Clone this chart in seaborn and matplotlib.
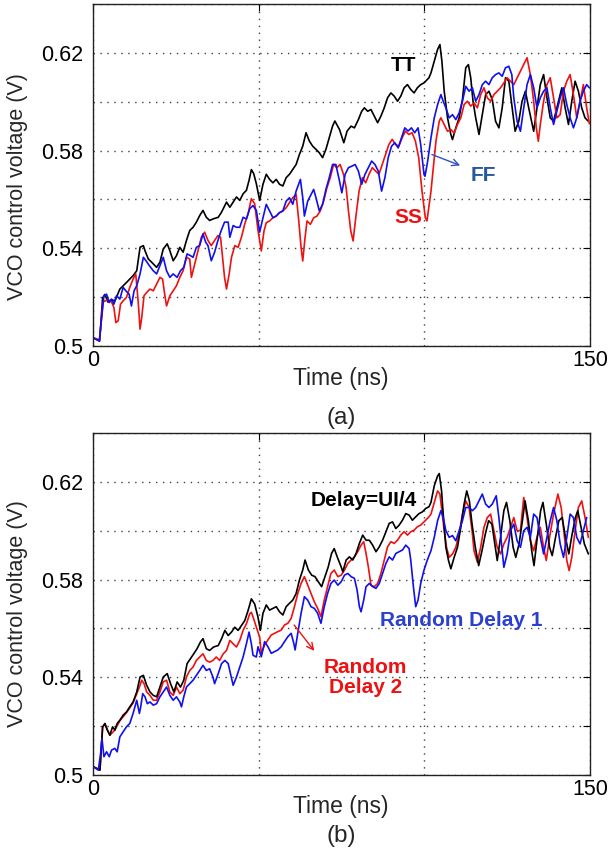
import numpy as np
import pandas as pd
import matplotlib
matplotlib.use("Agg")
import matplotlib.pyplot as plt
import seaborn as sns

# ---------------- data (time in ns, voltage in V) ----------------
# (a) process corners
TT = [(0, 0.5034), (2, 0.502), (2.9, 0.5197), (3.6, 0.5211), (4.5, 0.518), (5.6, 0.519), (6.6, 0.5184),
      (8.1, 0.5233), (10.1, 0.526), (12.1, 0.5288), (13.2, 0.5308), (14.2, 0.5404), (15.2, 0.5411),
      (15.7, 0.539), (16.7, 0.5356), (17.7, 0.5343), (19.2, 0.5322), (20.2, 0.5343), (21.2, 0.5397),
      (22.4, 0.5418), (23.2, 0.539), (24.2, 0.5349), (25.2, 0.537), (26.2, 0.5404), (27.2, 0.5384),
      (28.2, 0.5432), (29.2, 0.5473), (30.2, 0.5486), (31.2, 0.5507), (32.2, 0.5534), (33.2, 0.5555),
      (34.2, 0.5527), (35.2, 0.5514), (36.2, 0.552), (37.8, 0.5527), (38.8, 0.5548), (40.3, 0.5589),
      (41.3, 0.5568), (42.3, 0.5589), (43.3, 0.561), (44.3, 0.5596), (45.3, 0.5623), (46.3, 0.5637),
      (47.1, 0.5678), (47.8, 0.5722), (48.5, 0.5706), (49.3, 0.5664), (50.3, 0.5596), (51.3, 0.5662),
      (52.3, 0.5703), (53.3, 0.5682), (54.3, 0.5668), (55.3, 0.5682), (56.3, 0.5662), (57.3, 0.5655),
      (58.3, 0.5689), (59.3, 0.5703), (60.3, 0.5723), (61.3, 0.5743), (62.3, 0.5784), (63.3, 0.5818),
      (64.3, 0.5873), (65.3, 0.5839), (66.3, 0.5818), (67.3, 0.5805), (68.3, 0.5791), (69.3, 0.5771),
      (70.3, 0.5805), (71.3, 0.5852), (72.3, 0.59), (73.0, 0.5921), (74.4, 0.5886), (75.7, 0.5832),
      (76.7, 0.588), (77.9, 0.59), (78.9, 0.5893), (80.1, 0.5927), (81.1, 0.5961), (81.9, 0.5975),
      (82.9, 0.5961), (83.9, 0.5968), (84.9, 0.5941), (85.9, 0.5914), (86.9, 0.5941), (87.9, 0.5975),
      (88.9, 0.6016), (89.9, 0.6036), (90.9, 0.6023), (91.9, 0.6002), (92.9, 0.6023), (93.9, 0.6057),
      (94.9, 0.607), (95.9, 0.605), (96.9, 0.6036), (97.9, 0.6057), (98.9, 0.607), (99.9, 0.6077),
      (101.4, 0.6098), (102, 0.6118), (103, 0.6166), (104, 0.6214), (104.7, 0.6234), (105.3, 0.6166),
      (106, 0.6043), (107, 0.5934), (108, 0.5866), (108.5, 0.5845), (109.5, 0.5893), (110.5, 0.5934),
      (111.5, 0.6009), (112.5, 0.6139), (113.3, 0.6152), (114, 0.6098), (114.7, 0.6002), (115.5, 0.5934),
      (116.5, 0.5866), (117.5, 0.5947), (118.5, 0.6029), (119.5, 0.6043), (120.5, 0.6009), (121.5, 0.592),
      (122.5, 0.5893), (123.5, 0.5975), (124.5, 0.6098), (125.5, 0.6084), (126.5, 0.5975), (127.4, 0.5879),
      (128.5, 0.592), (129.5, 0.6002), (130.5, 0.6043), (131.5, 0.5975), (133, 0.5879), (134, 0.5975),
      (135, 0.607), (136, 0.6111), (137, 0.6016), (138, 0.5934), (139, 0.592), (140.5, 0.6002),
      (141.5, 0.6057), (142.5, 0.5975), (143.5, 0.5907), (144.5, 0.6002), (145.5, 0.6084), (146.5, 0.6043),
      (147.5, 0.5975), (148.5, 0.5934), (149.5, 0.592)]

SS = [(0, 0.5034), (2, 0.5025), (3, 0.518), (4.5, 0.519), (5.6, 0.518), (6.3, 0.5158), (6.9, 0.5096),
      (7.6, 0.5103), (8.3, 0.5171), (9.1, 0.5185), (10.1, 0.5199), (11.1, 0.524), (12.1, 0.5274),
      (12.9, 0.5295), (13.7, 0.5171), (14.2, 0.5069), (14.7, 0.5116), (15.4, 0.5206), (16.2, 0.5219),
      (17.2, 0.5233), (18.2, 0.5226), (19.2, 0.5253), (20.2, 0.5281), (21.0, 0.5274), (21.7, 0.5206),
      (22.2, 0.5164), (23.2, 0.5206), (24.2, 0.5226), (25.2, 0.5247), (26.2, 0.5281), (27.2, 0.5308),
      (28.2, 0.5363), (29.2, 0.5356), (29.7, 0.5281), (30.7, 0.5336), (31.7, 0.539), (32.7, 0.5445),
      (33.7, 0.5466), (34.7, 0.5432), (35.7, 0.5411), (36.7, 0.5432), (37.7, 0.5452), (38.5, 0.5445),
      (39.1, 0.5363), (39.7, 0.5281), (40.3, 0.5233), (41.1, 0.5295), (41.8, 0.5363), (42.8, 0.5411),
      (43.8, 0.5404), (44.8, 0.5445), (45.8, 0.55), (46.8, 0.5541), (47.8, 0.5603), (48.8, 0.5582),
      (49.8, 0.5473), (50.8, 0.5389), (51.6, 0.547), (52.3, 0.5505), (53.3, 0.5512), (54.3, 0.5525),
      (55.3, 0.5532), (56.3, 0.5546), (57.3, 0.5553), (58.3, 0.5566), (59.3, 0.5587), (60.3, 0.5607),
      (61.3, 0.5621), (62.1, 0.5512), (62.8, 0.5403), (63.3, 0.5348), (64.0, 0.5444), (64.6, 0.5512),
      (65.6, 0.5498), (66.6, 0.5525), (67.6, 0.5532), (68.6, 0.5553), (69.6, 0.5593), (70.6, 0.5648),
      (71.6, 0.5689), (72.6, 0.5743), (73.6, 0.573), (74.6, 0.5743), (75.6, 0.5703), (76.4, 0.5648),
      (77.1, 0.5553), (77.8, 0.5471), (78.5, 0.543), (79.3, 0.5525), (80.3, 0.5634), (81.3, 0.5689),
      (82.3, 0.5668), (83.3, 0.5703), (84.3, 0.573), (85.3, 0.5716), (86.3, 0.5703), (87.3, 0.5743),
      (88.3, 0.5784), (89.3, 0.5825), (90.3, 0.5846), (91.3, 0.5825), (92.3, 0.5818), (93.3, 0.5852),
      (94.3, 0.588), (95.3, 0.5866), (96.3, 0.5873), (97.3, 0.5839), (98.3, 0.5771), (99.3, 0.5634),
      (100.3, 0.5525), (100.8, 0.5512), (102, 0.5633), (103.5, 0.5838), (104.5, 0.592), (105, 0.5934),
      (106, 0.5907), (107, 0.5879), (108, 0.5886), (109, 0.5872), (110, 0.5907), (111, 0.5934),
      (112, 0.5988), (113, 0.6002), (114, 0.5982), (115, 0.5995), (116, 0.5975), (117, 0.6029),
      (118, 0.6057), (119, 0.6016), (120, 0.6002), (121, 0.6029), (122, 0.6043), (123, 0.6057),
      (124, 0.6077), (125, 0.6098), (126, 0.6084), (127, 0.607), (128, 0.6098), (129, 0.6125),
      (130, 0.6152), (131, 0.618), (132, 0.6111), (133, 0.6002), (133.8, 0.5893), (134.4, 0.5838),
      (135, 0.5907), (136, 0.6002), (137, 0.607), (138, 0.6098), (139, 0.6016), (140, 0.5934),
      (141, 0.5947), (142, 0.6043), (143, 0.6084), (144, 0.6111), (145, 0.6029), (146, 0.5934),
      (147, 0.6002), (148, 0.607), (149, 0.5975), (149.8, 0.591)]

FF = [(0, 0.5034), (1.9, 0.5021), (2.6, 0.5116), (3.3, 0.5206), (4.1, 0.5212), (4.9, 0.5178), (5.6, 0.5192),
      (6.3, 0.5171), (7.1, 0.5206), (8.1, 0.5192), (9.1, 0.524), (9.9, 0.5226), (10.9, 0.5212),
      (11.6, 0.5164), (12.4, 0.5226), (13.2, 0.5247), (14.2, 0.5295), (15.2, 0.5363), (16.0, 0.5349),
      (17.0, 0.5329), (18.2, 0.5308), (19.2, 0.5295), (20.2, 0.5329), (21.2, 0.5363), (22.2, 0.5308),
      (23.2, 0.5281), (24.2, 0.5295), (25.4, 0.5281), (26.4, 0.5308), (27.4, 0.5322), (28.4, 0.5377),
      (29.4, 0.537), (30.2, 0.5363), (31.2, 0.5404), (32.2, 0.5411), (33.2, 0.5459), (34.0, 0.5425),
      (34.7, 0.5411), (35.7, 0.5349), (36.7, 0.5384), (37.7, 0.5432), (38.7, 0.5473), (39.7, 0.5507),
      (40.8, 0.5507), (41.3, 0.5445), (42.3, 0.5493), (43.3, 0.5486), (44.3, 0.5486), (45.3, 0.5527),
      (46.3, 0.552), (47.3, 0.5562), (48.3, 0.5575), (49.3, 0.5555), (50.3, 0.5466), (51.3, 0.5525),
      (52.3, 0.558), (53.3, 0.5553), (54.3, 0.5525), (55.3, 0.5532), (56.3, 0.5546), (57.3, 0.5553),
      (58.3, 0.5593), (59.3, 0.5607), (60.3, 0.558), (61.3, 0.5634), (62.6, 0.5682), (63.3, 0.5607),
      (63.8, 0.5532), (64.8, 0.5593), (65.8, 0.562), (66.6, 0.5641), (67.3, 0.5607), (68.3, 0.5553),
      (69.3, 0.558), (70.3, 0.5641), (71.3, 0.5689), (72.3, 0.5743), (73.3, 0.5743), (74.4, 0.5675),
      (75.1, 0.5627), (76.1, 0.5703), (77.1, 0.573), (78.1, 0.5736), (79.1, 0.5743), (80.1, 0.5716),
      (81.1, 0.5662), (82.1, 0.5703), (83.1, 0.573), (84.1, 0.5757), (85.1, 0.5743), (86.1, 0.5716),
      (87.1, 0.5634), (88.1, 0.5689), (89.1, 0.5771), (90.1, 0.5818), (91.1, 0.5832), (92.1, 0.5811),
      (93.1, 0.5852), (94.1, 0.5893), (95.1, 0.588), (96.1, 0.5893), (97.1, 0.5873), (98.1, 0.5893),
      (98.9, 0.5825), (99.9, 0.5702), (100.2, 0.5695), (101, 0.5756), (102, 0.5852), (103, 0.5934),
      (104, 0.5988), (105, 0.6029), (105.7, 0.6002), (106.5, 0.5975), (107.5, 0.5934), (108.5, 0.5947),
      (109.5, 0.5927), (110.5, 0.5954), (111.5, 0.6002), (112.5, 0.6063), (113.5, 0.6043), (114.5, 0.6057),
      (115.5, 0.6002), (116.5, 0.6029), (117.5, 0.607), (118.5, 0.6084), (119.5, 0.607), (120.5, 0.6098),
      (121.5, 0.6111), (122.5, 0.6118), (123.5, 0.6104), (124.5, 0.6139), (125.5, 0.6145), (126.4, 0.6111),
      (127, 0.6016), (128, 0.592), (129, 0.5879), (130, 0.5975), (131, 0.607), (132, 0.6111),
      (133, 0.6057), (134, 0.5975), (135, 0.6016), (136, 0.6043), (137, 0.6057), (138, 0.5975),
      (139, 0.5907), (140, 0.5961), (141, 0.6016), (142, 0.6057), (143, 0.5988), (144, 0.5934),
      (145, 0.5893), (146, 0.5934), (147, 0.6002), (148, 0.6043), (149, 0.607), (149.8, 0.6057)]

# (b) delay cases
D_UI4 = [(0.1, 0.5034), (2.1, 0.502), (2.9, 0.5197), (3.6, 0.5211), (4.3, 0.5184), (5.1, 0.5163),
         (5.9, 0.5197), (6.6, 0.5184), (7.3, 0.5211), (8.1, 0.5224), (9.1, 0.5245), (10.1, 0.5258),
         (11.1, 0.5279), (12.1, 0.5299), (13.2, 0.534), (14.2, 0.5401), (15.2, 0.5408), (16.2, 0.5367),
         (17.2, 0.534), (18.2, 0.5326), (19.2, 0.532), (20.2, 0.536), (21.2, 0.5401), (22.4, 0.5415),
         (23.4, 0.5374), (24.4, 0.534), (25.4, 0.5381), (26.4, 0.536), (27.4, 0.5388), (28.4, 0.5456),
         (29.4, 0.5476), (30.4, 0.5496), (31.4, 0.5517), (32.4, 0.5544), (33.2, 0.5558), (34.2, 0.5517),
         (35.2, 0.551), (36.4, 0.5524), (37.8, 0.553), (38.8, 0.5558), (39.8, 0.5592), (40.8, 0.5571),
         (41.8, 0.5585), (42.8, 0.5605), (43.8, 0.5592), (44.8, 0.5612), (45.8, 0.5632), (46.8, 0.5673),
         (47.8, 0.5721), (48.8, 0.57), (49.8, 0.5646), (50.5, 0.5592), (51.3, 0.5662), (52.3, 0.5696),
         (53.3, 0.5675), (54.3, 0.5682), (55.3, 0.5689), (56.3, 0.5668), (57.3, 0.5655), (58.3, 0.5689),
         (59.3, 0.5703), (60.3, 0.5716), (61.3, 0.5743), (62.3, 0.5798), (63.3, 0.5839), (64.0, 0.588),
         (65.0, 0.5839), (66.0, 0.5818), (67.0, 0.5812), (68.0, 0.5791), (69.0, 0.5771), (70.0, 0.5812),
         (71.0, 0.5852), (72.0, 0.5907), (72.8, 0.5927), (73.9, 0.5886), (74.9, 0.5852), (75.4, 0.5832),
         (76.4, 0.588), (77.4, 0.5893), (78.4, 0.588), (79.4, 0.5907), (80.4, 0.5948), (81.4, 0.5982),
         (82.4, 0.5961), (83.4, 0.5961), (84.4, 0.5941), (85.4, 0.5914), (86.4, 0.5934), (87.4, 0.5961),
         (88.4, 0.5996), (89.4, 0.603), (90.4, 0.6036), (91.4, 0.6009), (92.4, 0.6023), (93.4, 0.6043),
         (94.4, 0.607), (95.4, 0.6064), (96.4, 0.6043), (97.4, 0.6057), (98.4, 0.607), (99.4, 0.6077),
         (100.4, 0.6091), (101.4, 0.6098), (102, 0.6116), (103, 0.6184), (104, 0.6224), (104.5, 0.6234),
         (105.2, 0.6163), (105.7, 0.6068), (106.5, 0.5932), (107.3, 0.5878), (108, 0.5844), (109, 0.5891),
         (110, 0.5932), (111, 0.6014), (112, 0.6109), (112.8, 0.6163), (113.6, 0.6122), (114.4, 0.6027),
         (115.4, 0.5932), (116.4, 0.5857), (117.4, 0.5918), (118.4, 0.5986), (119.4, 0.6041), (120.4, 0.6027),
         (121.4, 0.5932), (122, 0.5878), (123, 0.5973), (124, 0.6082), (124.8, 0.6116), (125.8, 0.6041),
         (126.8, 0.5932), (127.6, 0.5891), (128.6, 0.5946), (129.6, 0.6041), (130.4, 0.6122), (131.4, 0.6041),
         (132.4, 0.5918), (133.1, 0.5857), (134.1, 0.5973), (135.1, 0.6082), (135.8, 0.6116), (136.8, 0.6027),
         (137.8, 0.5932), (138.6, 0.5898), (139.6, 0.5973), (140.6, 0.6041), (141.6, 0.6054), (142.6, 0.5973),
         (143.6, 0.5905), (144.6, 0.5986), (145.6, 0.6054), (146.3, 0.6082), (147.3, 0.6014), (148.3, 0.5946),
         (149.5, 0.5905)]

RD2 = [(0.1, 0.5034), (2.1, 0.502), (2.9, 0.5195), (3.6, 0.5208), (5.1, 0.5163), (6.6, 0.5184),
       (8.1, 0.5222), (10.1, 0.5255), (12.1, 0.5295), (13.2, 0.5333), (14.0, 0.536), (14.7, 0.5388),
       (15.4, 0.5374), (16.2, 0.534), (17.2, 0.5326), (18.2, 0.5306), (19.2, 0.5306), (20.2, 0.534),
       (21.2, 0.5381), (22.2, 0.5388), (23.2, 0.534), (24.2, 0.5326), (25.2, 0.536), (26.2, 0.5333),
       (27.2, 0.5347), (28.2, 0.5401), (29.2, 0.5428), (30.2, 0.5442), (31.2, 0.5469), (32.2, 0.5483),
       (33.2, 0.5496), (34.2, 0.5469), (35.2, 0.5462), (36.2, 0.5469), (37.2, 0.5483), (38.2, 0.5469),
       (39.3, 0.5496), (40.3, 0.551), (41.3, 0.5551), (42.3, 0.5537), (43.3, 0.5524), (44.3, 0.5551),
       (45.3, 0.5592), (46.3, 0.5619), (47.3, 0.566), (47.8, 0.5666), (48.5, 0.5639), (49.3, 0.5605),
       (50.3, 0.5564), (50.8, 0.5498), (51.8, 0.5532), (52.8, 0.5553), (53.8, 0.5573), (54.8, 0.558),
       (55.8, 0.5587), (56.8, 0.5593), (57.8, 0.5614), (58.8, 0.5621), (59.8, 0.5641), (60.8, 0.5689),
       (61.8, 0.5743), (62.8, 0.5784), (63.8, 0.5812), (64.8, 0.5777), (65.8, 0.5743), (66.8, 0.5709),
       (67.8, 0.5682), (68.8, 0.5648), (69.8, 0.5716), (70.8, 0.5771), (71.8, 0.5825), (72.8, 0.5839),
       (73.9, 0.5812), (74.9, 0.5818), (75.9, 0.5839), (76.9, 0.5866), (77.9, 0.588), (78.9, 0.5893),
       (79.9, 0.5914), (80.9, 0.5941), (81.7, 0.5955), (82.4, 0.5907), (83.1, 0.5852), (83.9, 0.5777),
       (84.9, 0.5771), (85.9, 0.5784), (86.9, 0.5825), (87.9, 0.588), (88.9, 0.5934), (89.9, 0.5955),
       (90.9, 0.5948), (91.9, 0.5961), (92.9, 0.5982), (93.9, 0.5996), (94.9, 0.5982), (95.9, 0.5996),
       (96.9, 0.6002), (97.9, 0.6016), (98.9, 0.6023), (99.9, 0.6036), (101.4, 0.6057), (102, 0.6068),
       (103, 0.6116), (104, 0.6163), (104.7, 0.615), (105.3, 0.6082), (106, 0.6), (106.7, 0.5932),
       (107.5, 0.5891), (108.5, 0.5905), (109.5, 0.5932), (110.5, 0.5986), (111.5, 0.6068), (112.5, 0.6122),
       (113.5, 0.6095), (114.4, 0.6), (115, 0.5918), (116, 0.5871), (117, 0.5932), (118, 0.6014),
       (119, 0.6054), (120, 0.6068), (121, 0.6), (122, 0.5932), (123, 0.5905), (124, 0.5946),
       (125, 0.5973), (126, 0.6014), (127, 0.6054), (128, 0.6), (129, 0.6), (130, 0.6136), (131, 0.6054),
       (132, 0.5959), (133, 0.5918), (134, 0.5973), (135, 0.6014), (136, 0.5932), (136.8, 0.5878),
       (137.8, 0.5973), (139, 0.6068), (140.3, 0.615), (141.3, 0.6095), (142.3, 0.5973), (143, 0.5878),
       (143.7, 0.5837), (144.5, 0.5891), (145.5, 0.6), (146.5, 0.6095), (147.5, 0.6122), (148.5, 0.6054),
       (149.5, 0.5973)]

RD1 = [(0.1, 0.5034), (1.6, 0.502), (2.3, 0.5088), (2.7, 0.515), (3.3, 0.5075), (4.1, 0.5095), (4.9, 0.5075),
       (5.6, 0.5102), (6.6, 0.5109), (7.3, 0.5095), (8.1, 0.5156), (9.1, 0.5177), (10.1, 0.5197),
       (11.1, 0.5211), (12.1, 0.5252), (13.2, 0.5306), (14.0, 0.5252), (14.4, 0.5279), (15.0, 0.5333),
       (15.7, 0.532), (16.4, 0.5292), (17.2, 0.5299), (18.2, 0.5286), (19.2, 0.5292), (20.2, 0.532),
       (21.2, 0.534), (22.2, 0.536), (23.2, 0.5326), (24.2, 0.5306), (25.2, 0.532), (26.2, 0.5299),
       (26.7, 0.5279), (27.4, 0.532), (28.2, 0.536), (29.2, 0.5374), (30.2, 0.5388), (31.2, 0.5408),
       (32.2, 0.5428), (33.2, 0.5449), (34.2, 0.5428), (35.2, 0.5435), (36.2, 0.5401), (36.7, 0.5374),
       (37.8, 0.5415), (38.8, 0.5456), (39.8, 0.5469), (40.8, 0.5456), (41.5, 0.5415), (42.3, 0.5367),
       (43.3, 0.5401), (44.3, 0.5442), (45.3, 0.5483), (46.3, 0.5537), (47.1, 0.5585), (47.8, 0.5537),
       (48.3, 0.549), (49.3, 0.5483), (49.8, 0.5525), (50.8, 0.5484), (51.8, 0.5546), (52.8, 0.5525),
       (53.8, 0.5498), (54.8, 0.5505), (55.8, 0.5512), (56.8, 0.5525), (57.8, 0.5546), (58.8, 0.5566),
       (59.8, 0.558), (60.6, 0.5539), (61.0, 0.5512), (61.8, 0.558), (62.8, 0.5662), (63.8, 0.573),
       (64.8, 0.5716), (65.8, 0.5689), (66.8, 0.5682), (67.8, 0.5662), (68.8, 0.5621), (69.8, 0.5689),
       (70.8, 0.5743), (71.8, 0.5784), (72.8, 0.5798), (73.9, 0.5777), (74.9, 0.5791), (75.9, 0.5818),
       (76.9, 0.5825), (77.9, 0.5812), (78.9, 0.5805), (79.7, 0.5757), (80.4, 0.5689), (80.9, 0.5668),
       (81.7, 0.5716), (82.4, 0.5771), (83.4, 0.5784), (84.4, 0.5771), (85.4, 0.5764), (86.4, 0.5784),
       (87.4, 0.5825), (88.4, 0.5866), (89.4, 0.5893), (90.4, 0.588), (91.4, 0.5907), (92.4, 0.5914),
       (93.4, 0.5921), (94.4, 0.5941), (95.4, 0.5927), (95.9, 0.588), (96.7, 0.5771), (97.4, 0.5689),
       (98.1, 0.5716), (98.9, 0.5784), (99.9, 0.5839), (100.9, 0.588), (102, 0.5918), (103, 0.5973),
       (104, 0.6041), (105, 0.6082), (105.7, 0.6054), (106.5, 0.6), (107.5, 0.5973), (108.5, 0.598),
       (109.5, 0.5959), (110.5, 0.6), (111.5, 0.6041), (112.5, 0.6095), (113.5, 0.6095), (114.5, 0.6082),
       (115.5, 0.6095), (116.5, 0.6122), (117.5, 0.615), (118.5, 0.6109), (119.5, 0.6095), (120.5, 0.6109),
       (121.7, 0.6143), (122.5, 0.6054), (123.3, 0.5946), (124, 0.585), (125, 0.5905), (126, 0.6),
       (127, 0.6027), (128, 0.5959), (129, 0.5932), (130, 0.6), (131, 0.6014), (132, 0.5973), (133, 0.6068),
       (134, 0.6054), (135, 0.5973), (136, 0.5905), (137, 0.5973), (138, 0.6041), (139, 0.6095),
       (140, 0.6041), (141, 0.5946), (142, 0.5891), (143, 0.5973), (144, 0.6068), (145, 0.6054),
       (146, 0.5973), (147, 0.5946), (148, 0.6), (149, 0.6054)]

Y_TICKS = [0.50, 0.52, 0.54, 0.56, 0.58, 0.60, 0.62, 0.64]
Y_LABELS = ['0.5', '', '0.54', '', '0.58', '', '0.62', '']
X_TICKS = [0, 50, 100, 150]
X_LABELS = ['0', '', '', '150']

# ---------------- styling ----------------
sns.set_theme(style="white")
plt.rcParams['font.family'] = ['Liberation Sans', 'DejaVu Sans']

BLACK = '#000000'
RED = '#ee1111'
BLUE = '#1010ee'
FS = 15.5

fig = plt.figure(figsize=(6.09, 8.5), dpi=100)
W, H = 609.0, 850.0
ax1 = fig.add_axes([93 / W, 1 - 346 / H, 497 / W, 342 / H])
ax2 = fig.add_axes([93 / W, 1 - 775 / H, 497 / W, 342 / H])


def draw(ax, series):
    for pts, color in series:
        df = pd.DataFrame(pts, columns=['t', 'v'])
        sns.lineplot(data=df, x='t', y='v', ax=ax, color=color, lw=1.2,
                     sort=False, estimator=None, legend=False)


def style(ax):
    ax.set_xlim(0, 150)
    ax.set_ylim(0.5, 0.64)
    ax.set_xticks(X_TICKS)
    ax.set_xticklabels(X_LABELS)
    ax.set_yticks(Y_TICKS)
    ax.set_yticklabels(Y_LABELS)
    ax.set_xlabel('')
    ax.set_ylabel('')
    ax.grid(True, ls=(0, (1, 4)), color='0.25', lw=1.0)
    ax.tick_params(direction='in', top=True, right=True, length=5, width=0.8,
                   labelsize=FS, colors='black')
    ax.tick_params(axis='x', pad=3)
    ax.tick_params(axis='y', pad=7)
    for sp in ax.spines.values():
        sp.set_color('#222222')
        sp.set_linewidth(1.0)
        sp.set_visible(True)


draw(ax1, [(TT, BLACK), (SS, RED), (FF, BLUE)])
draw(ax2, [(RD2, RED), (D_UI4, BLACK), (RD1, BLUE)])
style(ax1)
style(ax2)

# annotations (a)
ax1.text(93.7, 0.6147, 'TT', color='black', fontsize=15, fontweight='bold', ha='center', va='center')
ax1.text(117.8, 0.5698, 'FF', color='#24599e', fontsize=15, fontweight='bold', ha='center', va='center')
ax1.text(95.2, 0.5524, 'SS', color='#ee1111', fontsize=15, fontweight='bold', ha='center', va='center')
ax1.annotate('', xy=(111.6, 0.5735), xytext=(101.5, 0.5788),
             arrowprops=dict(arrowstyle='->', color='#3050c0', lw=1.0))

# annotations (b)
ax2.text(81.6, 0.6123, 'Delay=UI/4', color='black', fontsize=15, fontweight='bold', ha='center', va='center')
ax2.text(111.0, 0.5631, 'Random Delay 1', color='#2b3fd0', fontsize=15, fontweight='bold', ha='center', va='center')
ax2.text(82.2, 0.5400, 'Random\nDelay 2', color='#ee1111', fontsize=15, fontweight='bold',
         ha='center', va='center', linespacing=1.1)
ax2.annotate('', xy=(67.3, 0.5499), xytext=(60.2, 0.5623),
             arrowprops=dict(arrowstyle='->', color='#ee1111', lw=1.0))

# axis labels and panel captions
for yc in (187, 614):
    fig.text(18 / W, 1 - yc / H, 'VCO control voltage (V)', rotation=90, ha='center', va='center', fontsize=FS)
fig.text(341 / W, 1 - 378 / H, 'Time (ns)', ha='center', va='center', fontsize=FS + 1)
fig.text(341 / W, 1 - 418 / H, '(a)', ha='center', va='center', fontsize=FS + 2)
fig.text(341 / W, 1 - 807 / H, 'Time (ns)', ha='center', va='center', fontsize=FS + 1)
fig.text(341 / W, 1 - 836 / H, '(b)', ha='center', va='center', fontsize=FS + 2)

fig.savefig('out.png', dpi=100)
